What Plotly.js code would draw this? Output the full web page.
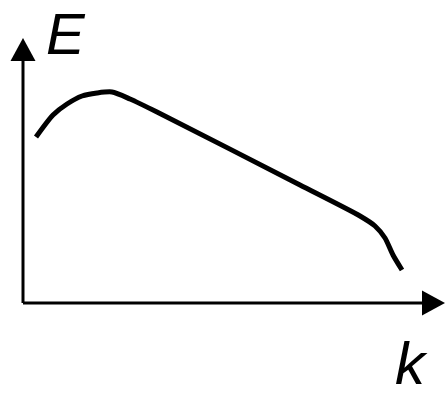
<!DOCTYPE html>
<html>
<head>
<meta charset="utf-8">
<script src="https://cdn.plot.ly/plotly-3.0.1.min.js"></script>
<style>
  html, body { margin: 0; padding: 0; background: #fff; }
  #chart { width: 445px; height: 397px; }
</style>
</head>
<body>
<div id="chart"></div>
<script>
// Schematic E(k) curve: rises to a maximum, falls linearly, then drops off.
const k = [13, 30, 44, 59, 74, 89, 107, 134, 277, 337, 352, 362, 370, 379];
const E = [166, 188, 199, 207, 210, 211, 204, 191, 118, 87, 77, 65, 48, 33];

const xLabel = 'k';
const yLabel = 'E';

// Axis extents (same units as the curve)
const kMax = 422;   // tip of the horizontal arrow
const eMax = 265;   // tip of the vertical arrow
const head = 23;    // arrowhead length
const half = 12.5;  // arrowhead half-width

const curve = {
  x: k, y: E,
  type: 'scatter', mode: 'lines',
  line: { color: '#000', width: 5, shape: 'spline', smoothing: 0.7 },
  hoverinfo: 'skip'
};

const shapes = [
  // vertical axis
  { type: 'line', xref: 'x', yref: 'y', x0: 0, y0: 0, x1: 0, y1: eMax - head,
    line: { color: '#000', width: 3 } },
  // horizontal axis
  { type: 'line', xref: 'x', yref: 'y', x0: 0, y0: 0, x1: kMax - head, y1: 0,
    line: { color: '#000', width: 3 } },
  // arrowheads
  { type: 'path', xref: 'x', yref: 'y',
    path: `M 0 ${eMax} L ${-half} ${eMax - head} L ${half} ${eMax - head} Z`,
    fillcolor: '#000', line: { color: '#000', width: 0 } },
  { type: 'path', xref: 'x', yref: 'y',
    path: `M ${kMax} 0 L ${kMax - head} ${half} L ${kMax - head} ${-half} Z`,
    fillcolor: '#000', line: { color: '#000', width: 0 } }
];

const annotations = [
  { text: '<i>' + yLabel + '</i>', xref: 'x', yref: 'y', x: 43, y: 270,
    xanchor: 'center', yanchor: 'middle', showarrow: false,
    font: { family: 'Liberation Sans, Arial, sans-serif', size: 58, color: '#000' } },
  { text: '<i>' + xLabel + '</i>', xref: 'x', yref: 'y', x: 388, y: -60,
    xanchor: 'center', yanchor: 'middle', showarrow: false, borderpad: 0,
    font: { family: 'Liberation Sans, Arial, sans-serif', size: 60, color: '#000' } }
];

const layout = {
  width: 445, height: 397,
  margin: { l: 0, r: 0, t: 0, b: 0, pad: 0 },
  paper_bgcolor: '#fff', plot_bgcolor: '#fff',
  showlegend: false,
  xaxis: { range: [-23, 422], visible: false, fixedrange: true },
  yaxis: { range: [-94, 303], visible: false, fixedrange: true },
  shapes: shapes,
  annotations: annotations
};

Plotly.newPlot('chart', [curve], layout, { staticPlot: true, displayModeBar: false });
</script>
</body>
</html>
